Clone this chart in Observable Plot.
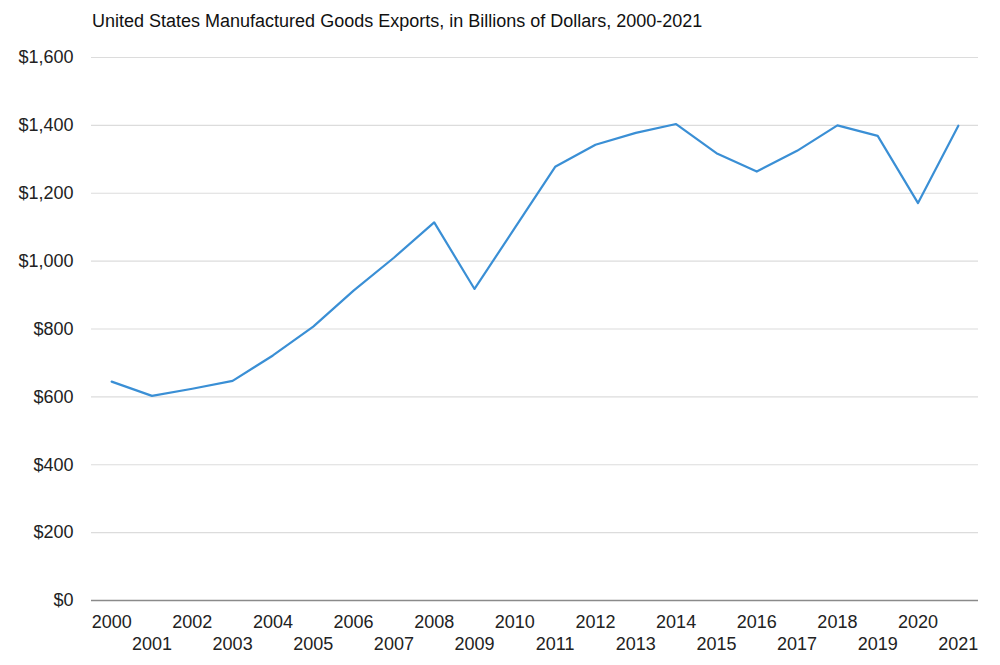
<!DOCTYPE html>
<html>
<head>
<meta charset="utf-8">
<script src="https://cdn.jsdelivr.net/npm/d3@7"></script>
<script src="https://cdn.jsdelivr.net/npm/@observablehq/plot@0.6"></script>
<style>
  body { margin: 0; background: #fff; font-family: "Liberation Sans", Arial, sans-serif; }
  #wrap { position: relative; width: 1000px; height: 665px; }
  #title { position: absolute; left: 92px; top: 11px; font-size: 18px; color: #111; white-space: nowrap; }
</style>
</head>
<body>
<div id="wrap">
  <div id="title">United States Manufactured Goods Exports, in Billions of Dollars, 2000-2021</div>
</div>
<script>
const years = [2000,2001,2002,2003,2004,2005,2006,2007,2008,2009,2010,2011,2012,2013,2014,2015,2016,2017,2018,2019,2020,2021];
const exportsBn = [645,603,624,647,722,807,913,1010,1114,918,1098,1278,1343,1378,1404,1318,1264,1325,1400,1369,1171,1399];
const yTicks = [0,200,400,600,800,1000,1200,1400,1600];

const data = years.map((y, i) => ({year: y, value: exportsBn[i]}));
const evenYears = years.filter(y => y % 2 === 0);
const oddYears = years.filter(y => y % 2 === 1);

const chart = Plot.plot({
  width: 1000,
  height: 665,
  marginTop: 57,
  marginBottom: 65,
  marginLeft: 91,
  marginRight: 22,
  style: {fontFamily: "'Liberation Sans', Arial, sans-serif", fontSize: "18px", color: "#222", background: "#fff"},
  x: {type: "band", domain: years, padding: 0, round: false, label: null},
  y: {domain: [0, 1600], label: null},
  marks: [
    Plot.gridY(yTicks.filter(d => d > 0), {stroke: "#dcdcdc", strokeOpacity: 1, strokeWidth: 1.2}),
    Plot.ruleY([0], {stroke: "#8a8a8a", strokeWidth: 1.5}),
    Plot.axisY({ticks: yTicks, tickSize: 0, tickPadding: 18, tickFormat: d => "$" + d3.format(",")(d), fill: "#222", fontSize: 18, label: null}),
    Plot.axisX({ticks: evenYears, tickSize: 0, tickPadding: 15, tickFormat: d => String(d), fill: "#222", fontSize: 18, label: null}),
    Plot.axisX({ticks: oddYears, tickSize: 0, tickPadding: 37, tickFormat: d => String(d), fill: "#222", fontSize: 18, label: null}),
    Plot.line(data, {x: "year", y: "value", stroke: "#3a8fd5", strokeWidth: 2.2})
  ]
});
document.getElementById("wrap").prepend(chart);
</script>
</body>
</html>
